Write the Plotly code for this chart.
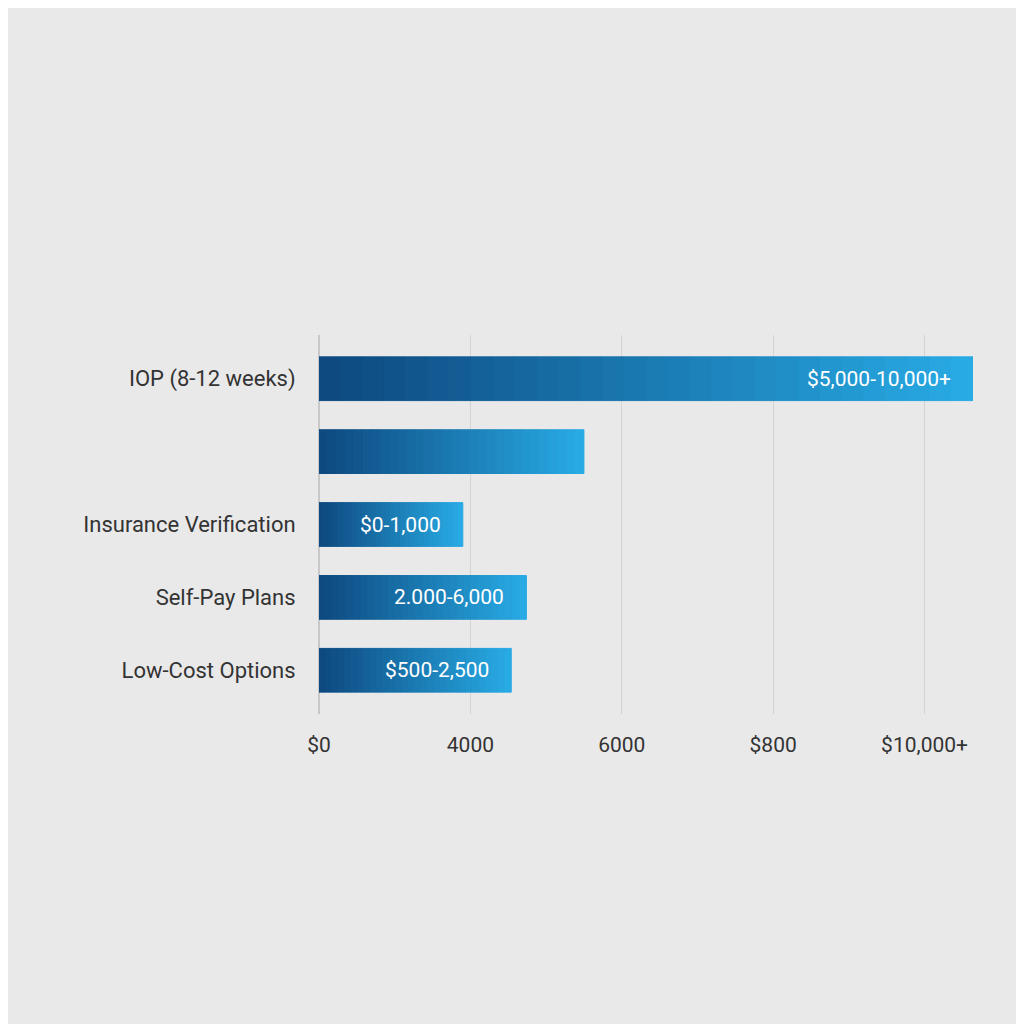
import plotly.graph_objects as go

# Data
categories = ["IOP (8-12 weeks)", "", "Insurance Verification", "Self-Pay Plans", "Low-Cost Options"]
values = [4.32, 1.75, 0.95, 1.37, 1.27]
bar_labels = ["$5,000-10,000+", "", "$0-1,000", "2.000-6,000", "$500-2,500"]
tick_vals = [0, 1, 2, 3, 4]
tick_text = ["$0", "4000", "6000", "$800", "$10,000+"]

dark = (14, 74, 128)
light = (40, 170, 228)
steps = 30

fig = go.Figure()
idx = list(range(len(categories)))
for s in range(steps):
    t = s / (steps - 1)
    col = "rgb(%d,%d,%d)" % tuple(int(dark[k] + (light[k] - dark[k]) * t) for k in range(3))
    seg = [v / steps for v in values]
    base = [v * s / steps for v in values]
    fig.add_trace(go.Bar(y=idx, x=seg, base=base, orientation="h", width=0.6,
                         marker=dict(color=col, line=dict(width=1, color=col)),
                         showlegend=False, hoverinfo="skip"))

for i, (v, lab) in enumerate(zip(values, bar_labels)):
    if lab:
        fig.add_annotation(x=v, y=i, text=lab, showarrow=False, xanchor="right", xshift=-20,
                           font=dict(color="white", size=21, family="Roboto"))

fig.update_layout(
    width=1024, height=1024, barmode="overlay",
    paper_bgcolor="#e9e9ea", plot_bgcolor="rgba(0,0,0,0)",
    margin=dict(l=311, r=59, t=327, b=318),
    font=dict(family="Roboto", color="#333333"),
    xaxis=dict(range=[0, 4.32], tickvals=tick_vals, ticktext=tick_text, showgrid=True,
               gridcolor="#d4d4d4", zeroline=True, zerolinecolor="#c8c8c8",
               tickfont=dict(size=21), ticks="outside", ticklen=12, tickcolor="rgba(0,0,0,0)"),
    yaxis=dict(range=[4.6, -0.6], tickvals=idx, ticktext=categories, showgrid=False,
               zeroline=False, tickfont=dict(size=22), ticks="outside",
               ticklen=18, tickcolor="rgba(0,0,0,0)"),
)
fig.write_html("out.html", config={"displayModeBar": False})
